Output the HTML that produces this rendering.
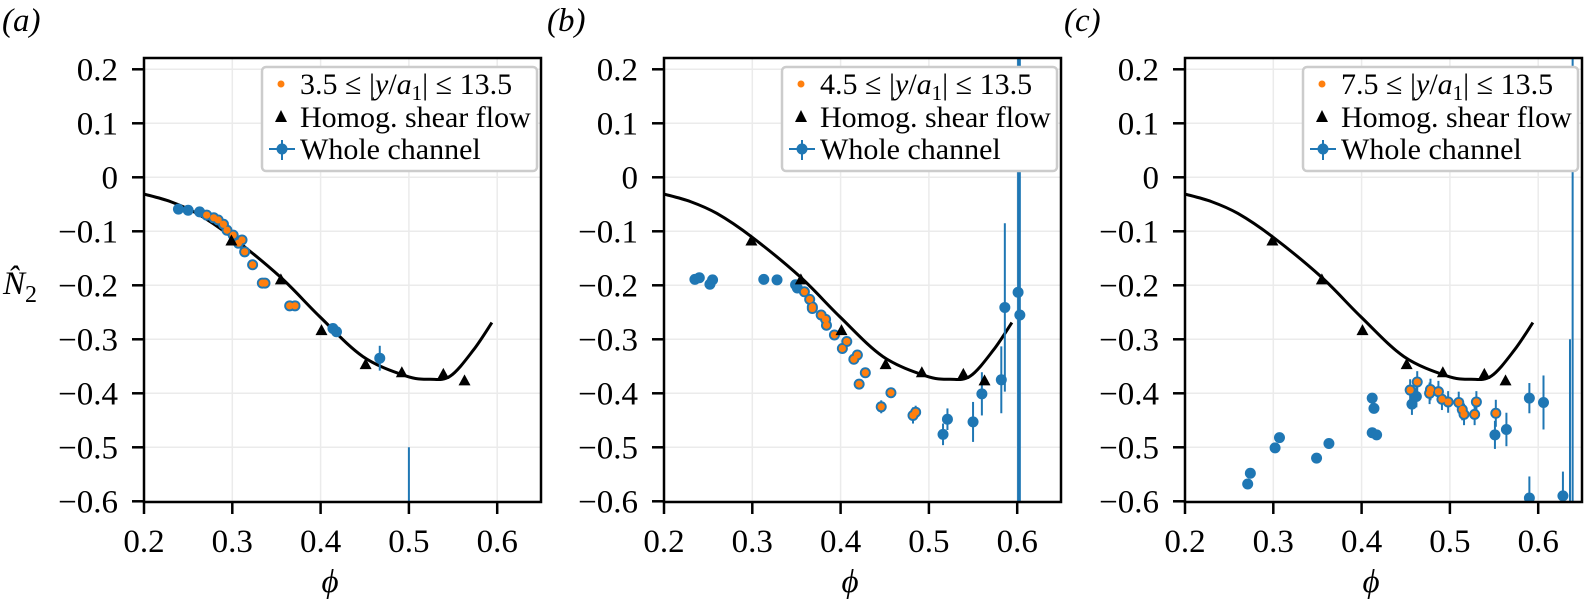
<!DOCTYPE html>
<html><head><meta charset="utf-8"><style>
html,body{margin:0;padding:0;background:#fff;overflow:hidden;}
svg{display:block;font-family:"Liberation Serif","DejaVu Serif",serif;}
text{font-family:"Liberation Serif","DejaVu Serif",serif;}
</style></head><body>
<svg id="fig" width="1584" height="606" viewBox="0 0 1584 606" xmlns="http://www.w3.org/2000/svg" font-family="Liberation Serif, serif">
<defs>
<clipPath id="clip"><rect x="0" y="58" width="397" height="444"/></clipPath>
</defs>
<text x="2" y="31" font-size="33" font-style="italic">(a)</text>
<text x="547" y="31" font-size="33" font-style="italic">(b)</text>
<text x="1064" y="31" font-size="33" font-style="italic">(c)</text>
<text x="3" y="294" font-size="33" font-style="italic">N̂<tspan font-style="normal" font-size="24" dy="8">2</tspan></text>
</svg>
<script>
const xTicks=[0.2,0.3,0.4,0.5,0.6];
const yTicks=[0.2,0.1,0,-0.1,-0.2,-0.3,-0.4,-0.5,-0.6];
const xTickLabels=["0.2","0.3","0.4","0.5","0.6"];
const yTickLabels=["0.2","0.1","0","\u22120.1","\u22120.2","\u22120.3","\u22120.4","\u22120.5","\u22120.6"];
const curveX=[0.2,0.23,0.26,0.299,0.354,0.399,0.448,0.497,0.524,0.547,0.573,0.594];
const curveY=[-0.031,-0.045,-0.067,-0.110,-0.184,-0.258,-0.332,-0.368,-0.374,-0.368,-0.320,-0.269];
const homogX=[0.299,0.355,0.401,0.451,0.492,0.539,0.563];
const homogY=[-0.117,-0.189,-0.283,-0.346,-0.361,-0.364,-0.376];
const legendLabels=["3.5","4.5","7.5"];
// panel a
const blueAX=[0.239,0.250,0.263,0.271,0.279,0.284,0.290,0.294,0.301,0.307,0.311,0.314,0.323,0.334,0.337,0.365,0.371,0.414,0.418,0.467,0.5];
const blueAY=[-0.059,-0.061,-0.064,-0.070,-0.075,-0.079,-0.087,-0.098,-0.107,-0.122,-0.116,-0.138,-0.162,-0.196,-0.196,-0.238,-0.238,-0.280,-0.286,-0.335,-0.75];
const blueAE=[0,0,0,0,0,0,0,0,0,0,0,0,0,0,0,0,0,0,0,0.023,0.25];
const orangeAX=[0.271,0.279,0.284,0.290,0.294,0.301,0.307,0.311,0.314,0.323,0.334,0.337,0.365,0.371];
const orangeAY=[-0.070,-0.075,-0.079,-0.087,-0.098,-0.107,-0.122,-0.116,-0.138,-0.162,-0.196,-0.196,-0.238,-0.238];
// panel b
const blueBX=[0.235,0.240,0.252,0.255,0.313,0.328,0.349,0.351,0.359,0.365,0.368,0.368,0.378,0.383,0.384,0.393,0.402,0.407,0.415,0.419,0.421,0.428,0.446,0.457,0.482,0.485,0.516,0.521,0.550,0.560,0.582,0.586,0.601,0.603];
const blueBY=[-0.189,-0.186,-0.198,-0.190,-0.189,-0.190,-0.199,-0.205,-0.212,-0.226,-0.240,-0.243,-0.255,-0.263,-0.274,-0.292,-0.317,-0.304,-0.337,-0.329,-0.383,-0.362,-0.425,-0.399,-0.441,-0.435,-0.476,-0.448,-0.453,-0.401,-0.375,-0.241,-0.213,-0.255];
const blueBE=[0,0,0,0,0,0,0,0,0,0,0,0,0,0,0,0,0,0,0,0,0,0,0.012,0.006,0.015,0.012,0.02,0.02,0.037,0.04,0.062,0.156,1.0,1.0];
const orangeBX=[0.359,0.365,0.368,0.368,0.378,0.383,0.384,0.393,0.402,0.407,0.415,0.419,0.421,0.428,0.446,0.457,0.482,0.485];
const orangeBY=[-0.212,-0.226,-0.240,-0.243,-0.255,-0.263,-0.274,-0.292,-0.317,-0.304,-0.337,-0.329,-0.383,-0.362,-0.425,-0.399,-0.441,-0.435];
// panel c
const blueCX=[0.271,0.274,0.302,0.307,0.349,0.363,0.412,0.414,0.412,0.417,0.457,0.455,0.463,0.462,0.477,0.478,0.487,0.491,0.498,0.510,0.514,0.516,0.528,0.530,0.552,0.551,0.564,0.590,0.606,0.590,0.628,0.636,0.639];
const blueCY=[-0.568,-0.548,-0.501,-0.482,-0.520,-0.493,-0.409,-0.428,-0.473,-0.477,-0.420,-0.394,-0.379,-0.406,-0.400,-0.393,-0.397,-0.411,-0.416,-0.417,-0.430,-0.439,-0.439,-0.416,-0.437,-0.477,-0.467,-0.409,-0.417,-0.594,-0.590,-0.70,-0.90];
const blueCE=[0,0,0,0,0,0,0,0,0,0,0.02,0.02,0.02,0.02,0.02,0.02,0.02,0.02,0.02,0.02,0.02,0.02,0.02,0.02,0.025,0.026,0.031,0.028,0.05,0.04,0.045,0.40,1.2];
const orangeCX=[0.455,0.463,0.477,0.478,0.487,0.491,0.498,0.510,0.514,0.516,0.528,0.530,0.552];
const orangeCY=[-0.394,-0.379,-0.400,-0.393,-0.397,-0.411,-0.416,-0.417,-0.430,-0.439,-0.439,-0.416,-0.437];

const NS="http://www.w3.org/2000/svg";
const svg=document.getElementById('fig');
const BLUE="#1f77b4", ORANGE="#ff7f0e";
const W=397, TOP=58, BOT=502;
const FF='"Liberation Serif", "DejaVu Serif", serif';
function sx(v){return (v-0.2)*883;}
function sy(v){return 69.3+(0.2-v)*540;}
function mk(tag,attrs,parent){const e=document.createElementNS(NS,tag);for(const k in attrs)e.setAttribute(k,attrs[k]);parent.appendChild(e);return e;}

const panels=[
 {left:144,bx:blueAX,by:blueAY,be:blueAE,ox:orangeAX,oy:orangeAY,name:'a'},
 {left:664,bx:blueBX,by:blueBY,be:blueBE,ox:orangeBX,oy:orangeBY,name:'b'},
 {left:1185,bx:blueCX,by:blueCY,be:blueCE,ox:orangeCX,oy:orangeCY,name:'c'}
];
panels.forEach((p,pi)=>{
 const g=mk('g',{transform:'translate('+p.left+',0)'},svg);
 
 
 xTicks.forEach(t=>{const l=mk('line',{x1:sx(t),x2:sx(t),y1:TOP,y2:BOT,stroke:'#ebebeb','stroke-width':1.5},g);
  
  });
 yTicks.forEach(t=>{const l=mk('line',{x1:0,x2:W,y1:sy(t),y2:sy(t),stroke:'#ebebeb','stroke-width':1.5},g);
  
  });
 const d=mk('g',{'clip-path':'url(#clip)'},g);
 const pts=curveX.map((x,i)=>[sx(x),sy(curveY[i])]);
 let path='M'+pts[0][0]+','+pts[0][1];
 for(let i=0;i<pts.length-1;i++){
  const p0=pts[Math.max(0,i-1)],p1=pts[i],p2=pts[i+1],p3=pts[Math.min(pts.length-1,i+2)];
  const c1=[p1[0]+(p2[0]-p0[0])/6,p1[1]+(p2[1]-p0[1])/6];
  const c2=[p2[0]-(p3[0]-p1[0])/6,p2[1]-(p3[1]-p1[1])/6];
  path+=' C'+c1[0]+','+c1[1]+' '+c2[0]+','+c2[1]+' '+p2[0]+','+p2[1];
 }
 const cv=mk('path',{d:path,fill:'none',stroke:'#000','stroke-width':3},d);
 
 
 p.bx.forEach((x,i)=>{
  const cx=sx(x),cy=sy(p.by[i]),e=p.be[i];
  if(e>0){const eb=mk('line',{x1:cx,x2:cx,y1:sy(p.by[i]+e),y2:sy(p.by[i]-e),stroke:BLUE,'stroke-width':2},d);
   
   }
  const c=mk('circle',{cx:cx,cy:cy,r:5.5,fill:BLUE},d);
  
  
 });
 p.ox.forEach((x,i)=>{
  const c=mk('circle',{cx:sx(x),cy:sy(p.oy[i]),r:3.6,fill:ORANGE},d);
  
  
 });
 homogX.forEach((x,i)=>{
  const cx=sx(x),cy=sy(homogY[i]);
  const t=mk('polygon',{points:(cx-6)+','+(cy+5)+' '+(cx+6)+','+(cy+5)+' '+cx+','+(cy-6),fill:'#000'},d);
  
  
 });
 const fr=mk('rect',{x:0,y:TOP,width:W,height:BOT-TOP,fill:'none',stroke:'#000','stroke-width':2.5},g);
 
 
 xTicks.forEach((t,i)=>{
  mk('line',{x1:sx(t),x2:sx(t),y1:BOT,y2:BOT+12,stroke:'#000','stroke-width':2.5},g);
  const tx=mk('text',{x:sx(t),y:552,'font-size':33,'text-anchor':'middle','font-family':FF},g);
  tx.textContent=xTickLabels[i];
  
  
 });
 yTicks.forEach((t,i)=>{
  mk('line',{x1:-12,x2:0,y1:sy(t),y2:sy(t),stroke:'#000','stroke-width':2.5},g);
  const tx=mk('text',{x:-26,y:sy(t)+11,'font-size':33,'text-anchor':'end','font-family':FF},g);
  tx.textContent=yTickLabels[i];
  
  
 });
 const xl=mk('text',{x:186,y:592,'font-size':33,'font-style':'italic','text-anchor':'middle','font-family':FF},g);
 xl.textContent='\u03d5';
 
 
 const lg=mk('g',{'font-family':FF},g);
 
 
 mk('rect',{x:118,y:67,width:W-122,height:104,rx:4,fill:'#fff',stroke:'#cccccc','stroke-width':2.5},lg);
 mk('circle',{cx:137,cy:84,r:3.5,fill:ORANGE},lg);
 const t1=mk('text',{x:156,y:94,'font-size':30,'font-family':FF},lg);
 t1.innerHTML=legendLabels[pi]+' \u2264 |<tspan font-style="italic">y</tspan>/<tspan font-style="italic">a</tspan><tspan font-size="21" dy="6">1</tspan><tspan dy="-6">| \u2264 13.5</tspan>';
 
 
 mk('polygon',{points:'131,122 143,122 137,110',fill:'#000'},lg);
 const t2=mk('text',{x:156,y:127,'font-size':30,'font-family':FF},lg);
 t2.textContent='Homog. shear flow';
 
 
 mk('line',{x1:125,x2:151,y1:149,y2:149,stroke:BLUE,'stroke-width':2},lg);
 mk('line',{x1:138,x2:138,y1:140,y2:160,stroke:BLUE,'stroke-width':2},lg);
 mk('circle',{cx:138,cy:149,r:5.5,fill:BLUE},lg);
 const t3=mk('text',{x:156,y:159,'font-size':30,'font-family':FF},lg);
 t3.textContent='Whole channel';
 
 
});
</script>
</body></html>
